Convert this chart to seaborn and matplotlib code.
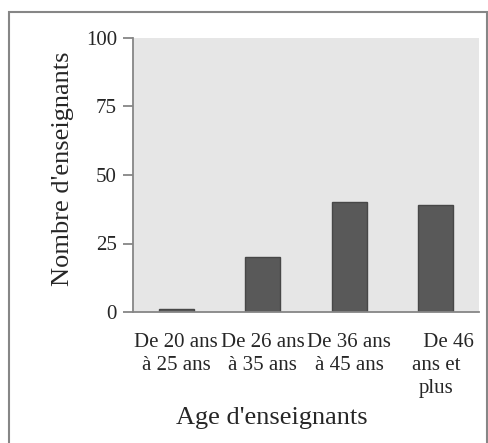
import pandas as pd
import numpy as np
import matplotlib
matplotlib.use('agg')
import matplotlib.pyplot as plt
import seaborn as sns

# data
categories = ["De 20 ans\nà 25 ans", "De 26 ans\nà 35 ans", "De 36 ans\nà 45 ans", "     De 46\nans et\nplus"]
counts = [1, 20, 40, 39]
y_ticks = [0, 25, 50, 75, 100]

W, H = 488, 443

sns.set_style("white")
plt.rcParams['font.family'] = ['Liberation Serif', 'DejaVu Serif']

df = pd.DataFrame({"Age": categories, "Nombre": counts})

fig = plt.figure(figsize=(W / 100, H / 100), dpi=100)
ax = fig.add_axes([133 / W, 1 - 312 / H, (479 - 133) / W, (312 - 38) / H])

sns.barplot(data=df, x="Age", y="Nombre", ax=ax, color="#595959",
            saturation=1, width=0.41, edgecolor="#474747", linewidth=1)

ax.set_facecolor("#e6e6e6")
ax.set_xlim(-0.5, 3.5)
ax.set_ylim(0, 100)
ax.set_yticks(y_ticks)
ax.set_yticklabels([str(v) for v in y_ticks], fontsize=15)

# ticks between the categories
ax.set_xticks(np.arange(len(categories)))
ax.set_xticklabels(categories, fontsize=15, linespacing=1.3)
ax.set_xticks(np.arange(len(categories) + 1) - 0.5, minor=True)
ax.tick_params(axis='x', which='major', length=0, pad=15)
ax.tick_params(axis='x', which='minor', length=6, width=1.3, color="#868686", direction='out')
ax.tick_params(axis='y', length=7, width=1.3, color="#868686", direction='out', pad=4.5, left=True)

for s in ['top', 'right']:
    ax.spines[s].set_visible(False)
for s in ['left', 'bottom']:
    ax.spines[s].set_color("#868686")
    ax.spines[s].set_linewidth(1.3)

ax.set_ylabel("Nombre d'enseignants", fontsize=19)
ax.set_xlabel("Age d'enseignants", fontsize=19)
ax.xaxis.set_label_coords((272 - 133) / (479 - 133), -(407 - 312) / (312 - 38))
ax.yaxis.set_label_coords(-(133 - 74) / (479 - 133), (312 - 169) / (312 - 38))

# outer chart border
border = plt.Rectangle((9 / W, -0.1), (487 - 9) / W, 1.1 - 12 / H,
                       transform=fig.transFigure, fill=False,
                       edgecolor="#868686", linewidth=1.5)
fig.patches.append(border)

plt.savefig("out.png", dpi=100)
plt.close(fig)
